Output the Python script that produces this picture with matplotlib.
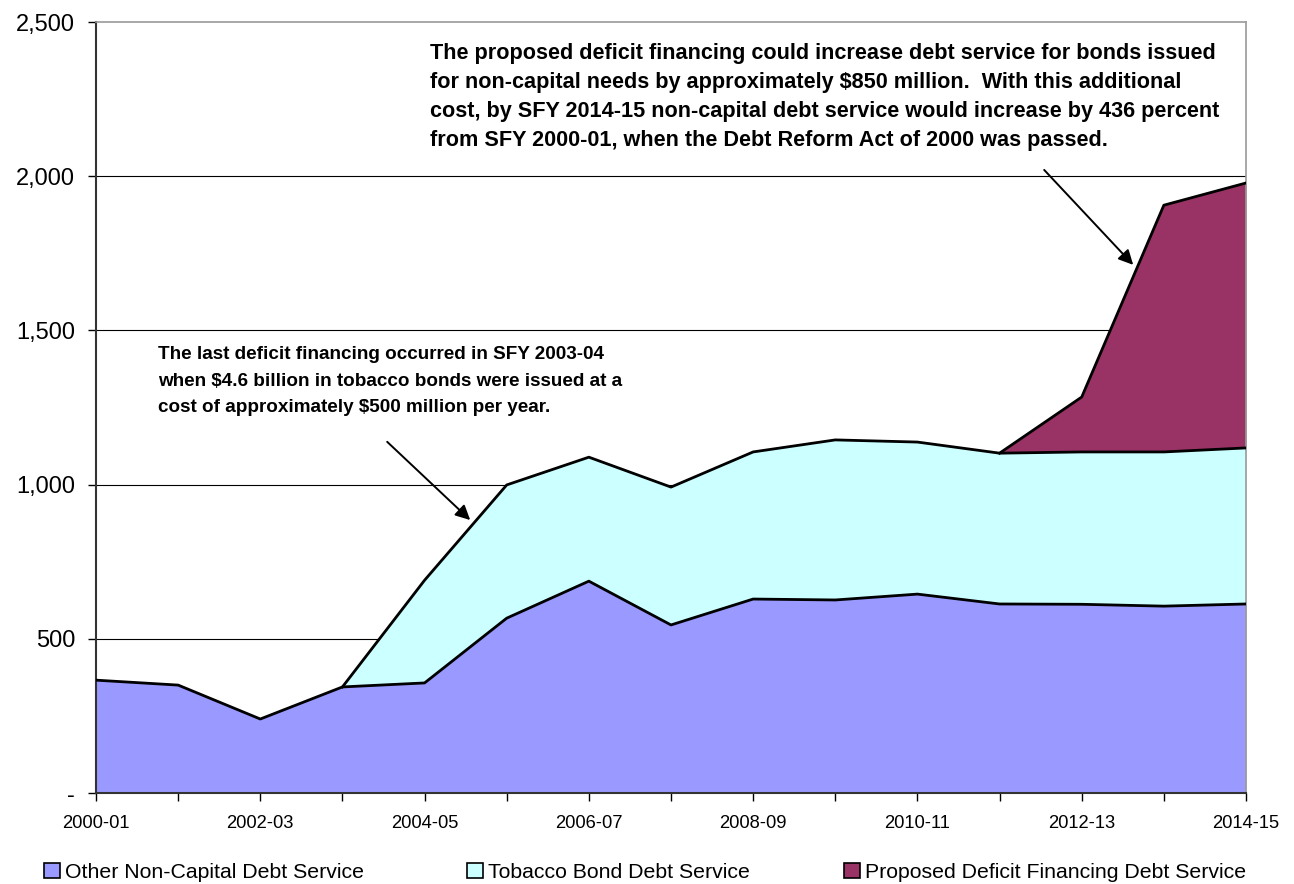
import numpy as np
import matplotlib.pyplot as plt
from matplotlib.patches import Patch

years = ['2000-01', '2001-02', '2002-03', '2003-04', '2004-05', '2005-06', '2006-07', '2007-08',
         '2008-09', '2009-10', '2010-11', '2011-12', '2012-13', '2013-14', '2014-15']
other = [366, 350, 240, 344, 357, 567, 687, 545, 629, 626, 645, 613, 612, 606, 613]
tobacco = [0, 0, 0, 0, 333, 432, 402, 447, 477, 519, 493, 489, 494, 500, 506]
proposed = [0, 0, 0, 0, 0, 0, 0, 0, 0, 0, 0, 0, 178, 800, 859]

yticks = [0, 500, 1000, 1500, 2000, 2500]
ylabels = ['-', '500', '1,000', '1,500', '2,000', '2,500']
names = ['Other Non-Capital Debt Service', 'Tobacco Bond Debt Service',
         'Proposed Deficit Financing Debt Service']
colors = ['#9999FF', '#CCFFFF', '#993366']

plt.rcParams['font.family'] = ['Liberation Sans', 'DejaVu Sans']

x = np.arange(len(years))
a = np.array(other)
b = a + np.array(tobacco)
c = b + np.array(proposed)

fig = plt.figure(figsize=(12.94, 8.84), dpi=100)
ax = fig.add_axes([0.0742, 0.1029, 0.8887, 0.8722])

for y in yticks[1:-1]:
    ax.axhline(y, color='black', lw=0.8, zorder=1)

ax.fill_between(x, 0, a, color=colors[0], lw=0, zorder=2)
ax.fill_between(x, a, b, color=colors[1], lw=0, zorder=2)
ax.fill_between(x, b, c, color=colors[2], lw=0, zorder=2)
ax.plot(x, a, color='black', lw=2, zorder=3)
ax.plot(x[3:], b[3:], color='black', lw=2, zorder=3)
ax.plot(x[11:], c[11:], color='black', lw=2, zorder=3)

ax.set_xlim(0, len(years) - 1)
ax.set_ylim(0, 2500)
ax.set_xticks(x)
ax.set_xticklabels([yr if i % 2 == 0 else '' for i, yr in enumerate(years)], fontsize=13.2)
ax.set_yticks(yticks)
ax.set_yticklabels(ylabels, fontsize=17)
ax.tick_params(axis='x', length=6, width=1, pad=10)
ax.tick_params(axis='y', length=6, width=1, pad=9)
for s in ['left', 'bottom']:
    ax.spines[s].set_color('#333333')
    ax.spines[s].set_linewidth(1.5)
for s in ['top', 'right']:
    ax.spines[s].set_color('#999999')
    ax.spines[s].set_linewidth(1.2)

ax.text(0.75, 1448, 'The last deficit financing occurred in SFY 2003-04\n'
        'when $4.6 billion in tobacco bonds were issued at a\n'
        'cost of approximately $500 million per year.',
        fontsize=13.6, fontweight='bold', va='top', ha='left', linespacing=1.72, zorder=5)
ax.annotate('', xy=(4.58, 879), xytext=(3.52, 1145),
            arrowprops=dict(arrowstyle='-|>', color='black', lw=1.4, mutation_scale=22), zorder=5)

ax.text(4.07, 2432, 'The proposed deficit financing could increase debt service for bonds issued\n'
        'for non-capital needs by approximately $850 million.  With this additional\n'
        'cost, by SFY 2014-15 non-capital debt service would increase by 436 percent\n'
        'from SFY 2000-01, when the Debt Reform Act of 2000 was passed.',
        fontsize=15.6, fontweight='bold', va='top', ha='left', linespacing=1.49, zorder=5)
ax.annotate('', xy=(12.65, 1706), xytext=(11.52, 2027),
            arrowprops=dict(arrowstyle='-|>', color='black', lw=1.4, mutation_scale=22), zorder=5)

# one legend per entry so each sits where the reference has it
for i, left in enumerate([0.034, 0.361, 0.652]):
    fig.legend([Patch(facecolor=colors[i], edgecolor='black', lw=1.2)], [names[i]],
               loc='center left', bbox_to_anchor=(left, 0.013), frameon=False,
               fontsize=15.3, handlelength=0.75, handleheight=0.75,
               handletextpad=0.25, borderpad=0, borderaxespad=0)

fig.savefig('out.png', dpi=100)
